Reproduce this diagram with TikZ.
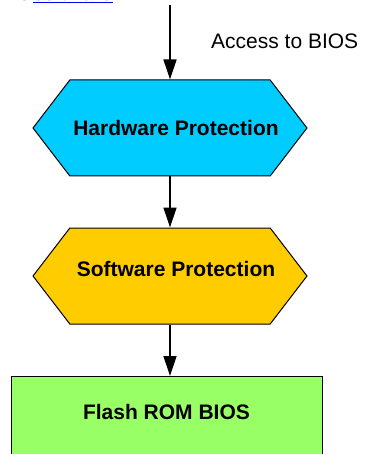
\documentclass[tikz,border=0pt]{standalone}
\usepackage{fontspec}
\setmainfont{Liberation Sans}
\usetikzlibrary{shapes.symbols,arrows.meta,positioning}
\tikzset{>={Triangle[length=20pt,width=13pt]}}
\definecolor{HWcol}{HTML}{00CCFF}
\definecolor{SWcol}{HTML}{FFCC00}
\definecolor{ROMcol}{HTML}{99FF66}
\definecolor{Linkcol}{HTML}{0000EE}
\tikzset{
  hexbox/.style={draw, line width=1pt, signal, signal to=east and west,
    signal pointer angle=105, minimum width=274pt, minimum height=96pt,
    inner sep=0pt},
  hextext/.style={font=\bfseries\fontsize{21}{25}\selectfont, inner sep=0pt},
  flow/.style={->, line width=1.3pt},
}

\begin{document}
\begin{tikzpicture}[x=1pt,y=-1pt]
    \useasboundingbox (0,0) rectangle (364,454);
    \def\FS{\fontsize{21}{25}\selectfont} % text size

    % cut-off line of the page above
    \node [anchor=base east, inner sep=0pt, font=\FS] (is) at (30,1) {is};
    \node [anchor=base west, inner sep=0pt, font=\FS, Linkcol] (link) at (33,1) {\underline{software}};
    \node [anchor=base west, inner sep=0pt, font=\FS] (dot) at (link.base east) {.};

    \coordinate (in) at (170,5);
    \node [hexbox, fill=HWcol] (hw) at (170,128) {};
    \node [hextext] (hwtext) at ([xshift=6pt]hw.center) {Hardware Protection};
    \node [hexbox, fill=SWcol] (sw) at (170,276) {};
    \node [hextext] (swtext) at ([xshift=6pt,yshift=7pt]sw.center) {Software Protection};
    \node [draw, line width=1pt, fill=ROMcol, anchor=north, minimum width=311pt,
           minimum height=100pt] (rom) at (166.5,376) {};
    \node [hextext] (romtext) at ([yshift=-36pt]rom.north) {Flash ROM BIOS};
    \node [anchor=west, inner sep=0pt, font=\FS] (acc) at (211,41) {Access to BIOS};

    \draw [flow] (in) -- (hw.north);
    \draw [flow] (hw.south) -- (sw.north);
    \draw [flow] (sw.south) -- (sw.south |- rom.north);
\end{tikzpicture}
\end{document}
